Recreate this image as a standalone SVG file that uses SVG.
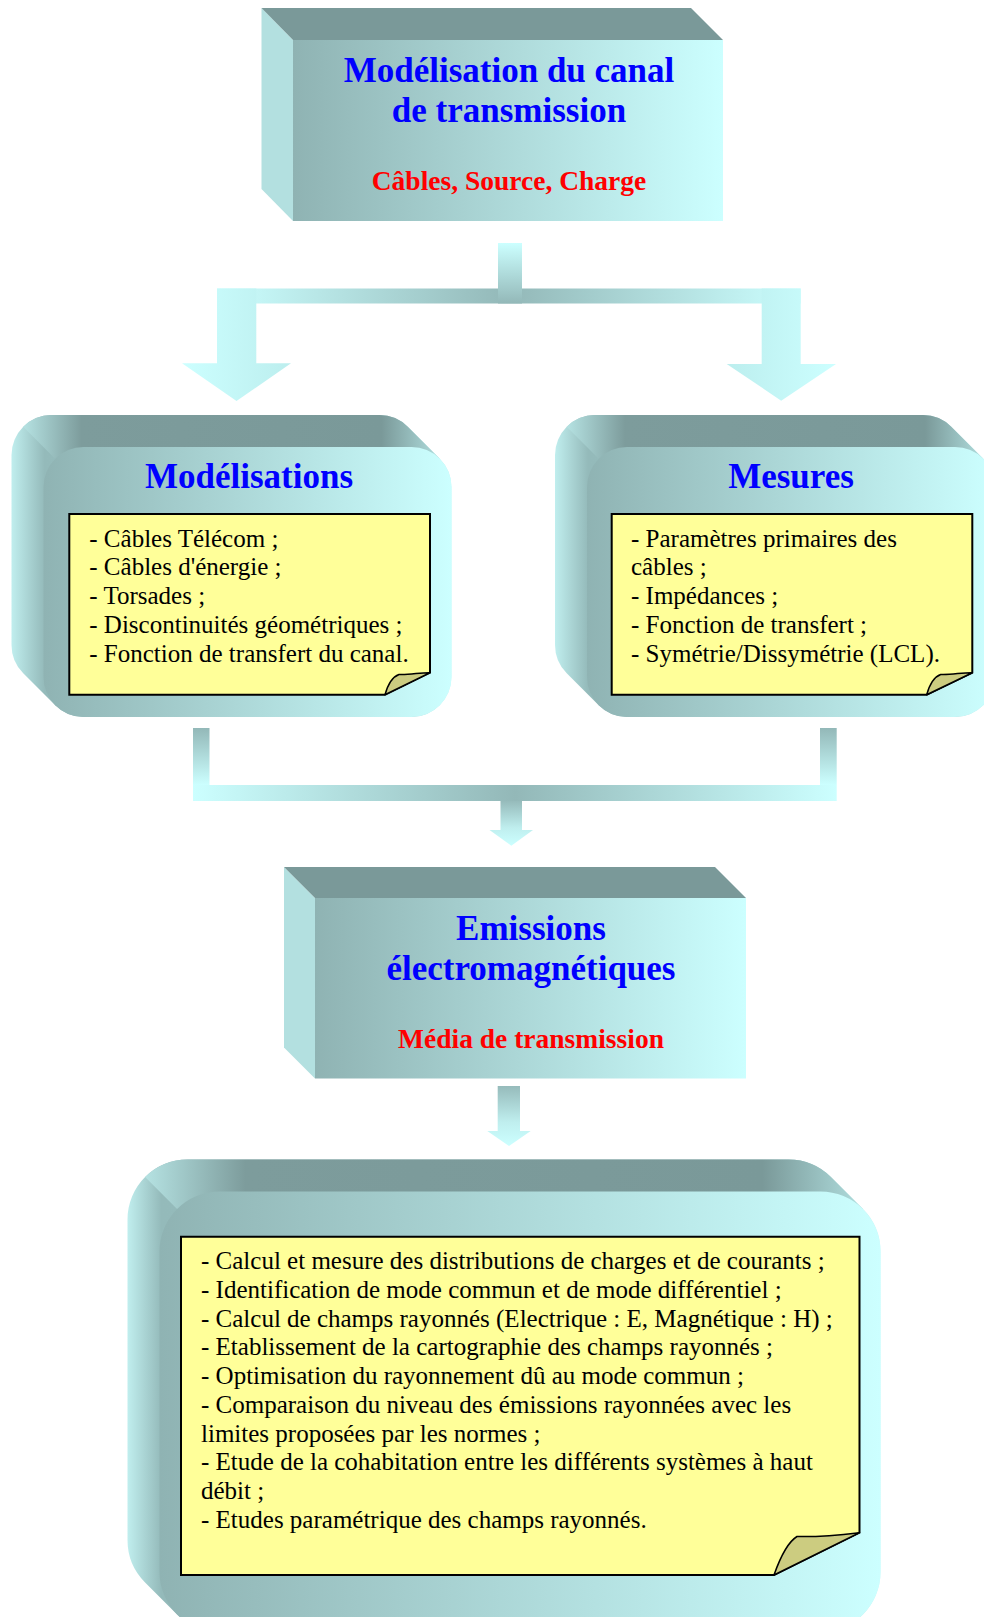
<svg xmlns="http://www.w3.org/2000/svg" width="984" height="1617" viewBox="0 0 984 1617">
<defs>
<linearGradient id="front" x1="0" y1="0" x2="1" y2="0"><stop offset="0" stop-color="#8fb3b3"/><stop offset="1" stop-color="#ccffff"/></linearGradient>
<linearGradient id="hull" x1="0" y1="0" x2="1" y2="0"><stop offset="0" stop-color="#c0eeee"/><stop offset="0.075" stop-color="#94baba"/><stop offset="0.85" stop-color="#9cc6c6"/><stop offset="1" stop-color="#c8f8f8"/></linearGradient>
<linearGradient id="hullB" x1="0" y1="0" x2="1" y2="0"><stop offset="0" stop-color="#c0eeee"/><stop offset="0.045" stop-color="#94baba"/><stop offset="0.9" stop-color="#9cc6c6"/><stop offset="1" stop-color="#c8f8f8"/></linearGradient>
<linearGradient id="topf" x1="0" y1="0" x2="1" y2="0"><stop offset="0" stop-color="#b5e2e2"/><stop offset="0.14" stop-color="#7d9c9c"/><stop offset="0.86" stop-color="#7a9999"/><stop offset="1" stop-color="#b0dede"/></linearGradient>
<linearGradient id="bar" x1="0" y1="0" x2="1" y2="0"><stop offset="0" stop-color="#ccffff"/><stop offset="0.5" stop-color="#93b8b8"/><stop offset="1" stop-color="#ccffff"/></linearGradient>
<linearGradient id="vdl" x1="0" y1="0" x2="0" y2="1"><stop offset="0" stop-color="#93b8b8"/><stop offset="1" stop-color="#ccffff"/></linearGradient>
<linearGradient id="vld" x1="0" y1="0" x2="0" y2="1"><stop offset="0" stop-color="#ccffff"/><stop offset="1" stop-color="#93b8b8"/></linearGradient>
<linearGradient id="arrD" x1="0" y1="0" x2="0" y2="1"><stop offset="0" stop-color="#96bbbb"/><stop offset="0.6" stop-color="#bfeeee"/><stop offset="1" stop-color="#ccffff"/></linearGradient>
<linearGradient id="arrL" x1="0" y1="0" x2="1" y2="0"><stop offset="0" stop-color="#ccffff"/><stop offset="1" stop-color="#bceeee"/></linearGradient>
<linearGradient id="arrR" x1="0" y1="0" x2="1" y2="0"><stop offset="0" stop-color="#bceeee"/><stop offset="1" stop-color="#ccffff"/></linearGradient>
</defs>
<style>
.side{fill:#b3e0e0}
.topface{fill:#7a9999}
.front{fill:url(#front)}
.note{fill:#ffff99;stroke:#000;stroke-width:2;stroke-linejoin:miter}
.fold{fill:#cccc80;stroke:#000;stroke-width:1.5;stroke-linejoin:round}
.title{font-family:"Liberation Serif","Times New Roman",serif;font-weight:bold;font-size:35px;fill:#0000ff;text-anchor:middle}
.sub{font-family:"Liberation Serif","Times New Roman",serif;font-weight:bold;font-size:27.5px;fill:#ff0000;text-anchor:middle}
.body{font-family:"Liberation Serif","Times New Roman",serif;font-size:25px;fill:#000}
</style>
<rect width="984" height="1617" fill="#ffffff"/>

<g id="connectors">
<rect x="217" y="288.5" width="583.7" height="15" fill="url(#bar)"/>
<polygon points="217,288.5 256.3,288.5 256.3,363.3 291,363.3 236.5,401 182,363.3 217,363.3" fill="url(#arrL)"/>
<polygon points="761.7,288.5 800.7,288.5 800.7,364 836,364 781.2,400.7 726.7,364 761.7,364" fill="url(#arrR)"/>
<rect x="498" y="243" width="24" height="60.5" fill="url(#vld)"/>

<rect x="193" y="728" width="16.5" height="57" fill="url(#vdl)"/>
<rect x="820" y="728" width="16.7" height="57" fill="url(#vdl)"/>
<rect x="193" y="785" width="643.7" height="16" fill="url(#bar)"/>
<polygon points="500.5,801 522,801 522,830 533,830 511.3,845.7 489.5,830 500.5,830" fill="url(#arrD)"/>

<polygon points="497.7,1086 520,1086 520,1131 530.7,1131 509,1146 487.3,1131 497.7,1131" fill="url(#arrD)"/>
</g>

<g id="node-canal">
<polygon class="side" points="261.5,8 293,40 293,221 261.5,189"/>
<polygon class="topface" points="261.5,8 691,8 723,40 293,40"/>
<rect class="front" x="293" y="40" width="430" height="181"/>
<text class="title" x="509" y="82">Modélisation du canal</text>
<text class="title" x="509" y="122">de transmission</text>
<text class="sub" x="509" y="190">Câbles, Source, Charge</text>
</g>

<g id="node-modelisations">
<path fill="url(#hull)" d="M11.5,455 A40,40 0 0 1 51.5,415 L379.5,415 A40,40 0 0 1 407.78,426.72 L439.78,458.72 A40,40 0 0 1 451.5,487 L451.5,677 A40,40 0 0 1 411.5,717 L83.5,717 A40,40 0 0 1 55.22,705.28 L23.22,673.28 A40,40 0 0 1 11.5,645 Z"/>
<path fill="url(#topf)" d="M23.22,426.72 A40,40 0 0 1 51.5,415 L379.5,415 A40,40 0 0 1 407.78,426.72 L439.78,458.72 L55.22,458.72 Z"/>
<rect class="front" x="43.5" y="447" width="408" height="270" rx="40" ry="40"/>
<text class="title" x="249" y="488">Modélisations</text>
<polygon class="note" points="69.3,514 430,514 430,672.7 385,694.7 69.3,694.7"/>
<path class="fold" d="M385,694.7 C388,684 392,677 399,674.5 C410,675 420,672.5 430,672.7 Z"/>
<text class="body" x="89.3" y="546.7">- Câbles Télécom ;</text>
<text class="body" x="89.3" y="575.4">- Câbles d'énergie ;</text>
<text class="body" x="89.3" y="604.2">- Torsades ;</text>
<text class="body" x="89.3" y="632.9">- Discontinuités géométriques ;</text>
<text class="body" x="89.3" y="661.7">- Fonction de transfert du canal.</text>
</g>

<g id="node-mesures">
<path fill="url(#hull)" d="M555,455 A40,40 0 0 1 595,415 L923,415 A40,40 0 0 1 951.28,426.72 L983.28,458.72 A40,40 0 0 1 995,487 L995,677 A40,40 0 0 1 955,717 L627,717 A40,40 0 0 1 598.72,705.28 L566.72,673.28 A40,40 0 0 1 555,645 Z"/>
<path fill="url(#topf)" d="M566.72,426.72 A40,40 0 0 1 595,415 L923,415 A40,40 0 0 1 951.28,426.72 L983.28,458.72 L598.72,458.72 Z"/>
<rect class="front" x="587" y="447" width="408" height="270" rx="40" ry="40"/>
<text class="title" x="791" y="488">Mesures</text>
<polygon class="note" points="611.7,514 972.3,514 972.3,672.7 926.7,694.7 611.7,694.7"/>
<path class="fold" d="M926.7,694.7 C929.7,684 933.7,677 940.7,674.5 C951.7,675 961.7,672.5 972.3,672.7 Z"/>
<text class="body" x="631" y="546.7">- Paramètres primaires des</text>
<text class="body" x="631" y="575.4">câbles ;</text>
<text class="body" x="631" y="604.2">- Impédances ;</text>
<text class="body" x="631" y="632.9">- Fonction de transfert ;</text>
<text class="body" x="631" y="661.7">- Symétrie/Dissymétrie (LCL).</text>
</g>

<g id="node-emissions">
<polygon class="side" points="284,867 315,898 315,1078.5 284,1047.5"/>
<polygon class="topface" points="284,867 715,867 746,898 315,898"/>
<rect class="front" x="315" y="898" width="431" height="180.5"/>
<text class="title" x="531" y="940">Emissions</text>
<text class="title" x="531" y="980">électromagnétiques</text>
<text class="sub" x="531" y="1048">Média de transmission</text>
</g>

<g id="node-etudes">
<path fill="url(#hullB)" d="M127.5,1219.5 A60,60 0 0 1 187.5,1159.5 L788.5,1159.5 A60,60 0 0 1 830.93,1177.07 L862.93,1209.07 A60,60 0 0 1 880.5,1251.5 L880.5,1572 A60,60 0 0 1 820.5,1632 L219.5,1632 A60,60 0 0 1 177.07,1614.43 L145.07,1582.43 A60,60 0 0 1 127.5,1540 Z"/>
<path fill="url(#topf)" d="M145.07,1177.07 A60,60 0 0 1 187.5,1159.5 L788.5,1159.5 A60,60 0 0 1 830.93,1177.07 L862.93,1209.07 L177.07,1209.07 Z"/>
<rect class="front" x="159.5" y="1191.5" width="721" height="440.5" rx="60" ry="60"/>
<polygon class="note" points="181,1236.7 859.5,1236.7 859.5,1532.7 774,1575 181,1575"/>
<path class="fold" d="M774,1575 C780,1558 788,1542 797,1536.5 C815,1537 840,1535 859.5,1532.7 Z"/>
<text class="body" x="201" y="1269.3">- Calcul et mesure des distributions de charges et de courants ;</text>
<text class="body" x="201" y="1298">- Identification de mode commun et de mode différentiel ;</text>
<text class="body" x="201" y="1326.7">- Calcul de champs rayonnés (Electrique : E, Magnétique : H) ;</text>
<text class="body" x="201" y="1355.4">- Etablissement de la cartographie des champs rayonnés ;</text>
<text class="body" x="201" y="1384.1">- Optimisation du rayonnement dû au mode commun ;</text>
<text class="body" x="201" y="1412.8">- Comparaison du niveau des émissions rayonnées avec les</text>
<text class="body" x="201" y="1441.5">limites proposées par les normes ;</text>
<text class="body" x="201" y="1470.2">- Etude de la cohabitation entre les différents systèmes à haut</text>
<text class="body" x="201" y="1498.9">débit ;</text>
<text class="body" x="201" y="1527.6">- Etudes paramétrique des champs rayonnés.</text>
</g>
</svg>
